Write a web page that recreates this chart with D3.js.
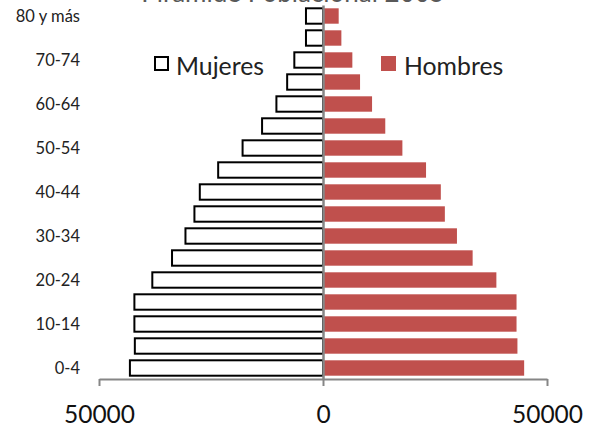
<!DOCTYPE html>
<html><head><meta charset="utf-8">
<script src="https://cdn.jsdelivr.net/npm/d3@7"></script>
<style>body{margin:0;background:#fff;}svg{display:block;font-family:Lato,"Open Sans",sans-serif;}</style>
</head><body>
<svg id="c" width="592" height="427"></svg>
<script>
const categories = ["0-4","5-9","10-14","15-19","20-24","25-29","30-34","35-39","40-44","45-49","50-54","55-59","60-64","65-69","70-74","75-79","80 y más"];
const mujeres = [43100, 42000, 42100, 42100, 38100, 33700, 30700, 28700, 27500, 23400, 17950, 13600, 10400, 8000, 6400, 3800, 3800];
const hombres = [44900, 43400, 43200, 43200, 38700, 33400, 29900, 27200, 26300, 23000, 17720, 13900, 10950, 8270, 6550, 4100, 3500];
const xTicks = [-50000, 0, 50000];
const shownLabels = ["0-4","10-14","20-24","30-34","40-44","50-54","60-64","70-74","80 y más"];
const title = "Pirámide Poblacional 2005";

const svg = d3.select("#c");
const x = d3.scaleLinear().domain([-50000, 50000]).range([99, 547]);
const y = d3.scaleBand().domain(categories).range([379, 5]).paddingInner(0.3).paddingOuter(0.15);

// title (cut off at top, as in the reference)
svg.append("text").attr("x", 293).attr("y", 2).attr("text-anchor", "middle")
  .attr("font-size", 26).attr("fill", "#595959").text(title);

// women bars
svg.append("g").selectAll("rect").data(categories).join("rect")
  .attr("x", (d,i) => x(-mujeres[i]))
  .attr("y", d => y(d))
  .attr("width", (d,i) => x(0) - x(-mujeres[i]))
  .attr("height", y.bandwidth())
  .attr("fill", "#fff").attr("stroke", "#000").attr("stroke-width", 2);

// men bars
svg.append("g").selectAll("rect").data(categories).join("rect")
  .attr("x", x(0))
  .attr("y", d => y(d))
  .attr("width", (d,i) => x(hombres[i]) - x(0))
  .attr("height", y.bandwidth())
  .attr("fill", "#C0504D");

// x axis
const xa = svg.append("g").attr("transform", "translate(0,379)")
  .call(d3.axisBottom(x).tickValues(xTicks).tickFormat(d => Math.abs(d)).tickSizeInner(7).tickSizeOuter(0).tickPadding(20));
xa.select(".domain").attr("stroke", "#868686").attr("stroke-width", 2);
xa.selectAll(".tick line").attr("stroke", "#868686").attr("stroke-width", 2);
xa.selectAll(".tick text").attr("font-size", 24.5).attr("fill", "#111").attr("font-family", "Lato");

// y axis (centre line)
const ya = svg.append("g").attr("transform", `translate(${x(0)},0)`)
  .call(d3.axisLeft(y).tickSize(0).tickFormat(() => ""));
ya.select(".domain").attr("stroke", "#868686").attr("stroke-width", 2.5);

// category labels
svg.append("g").selectAll("text").data(shownLabels).join("text")
  .attr("x", 80).attr("y", d => y(d) + y.bandwidth()/2)
  .attr("dy", "0.35em").attr("text-anchor", "end")
  .attr("font-size", 16.5).attr("fill", "#222").text(d => d);

// legend
const leg = [{name:"Mujeres", bx:154, tx:176, fill:"#fff", stroke:"#000"},
             {name:"Hombres", bx:381, tx:404, fill:"#C0504D", stroke:"none"}];
const lg = svg.append("g").selectAll("g").data(leg).join("g");
lg.append("rect").attr("x", d => d.bx).attr("y", 56).attr("width", d => d.stroke === "none" ? 15 : 13).attr("height", d => d.stroke === "none" ? 15 : 13)
  .attr("transform", d => d.stroke === "none" ? "" : "translate(1,1)")
  .attr("fill", d => d.fill).attr("stroke", d => d.stroke).attr("stroke-width", 2);
lg.append("text").attr("x", d => d.tx).attr("y", 74.5).attr("font-size", 24.8).attr("fill", "#222").text(d => d.name);
</script>
</body></html>
